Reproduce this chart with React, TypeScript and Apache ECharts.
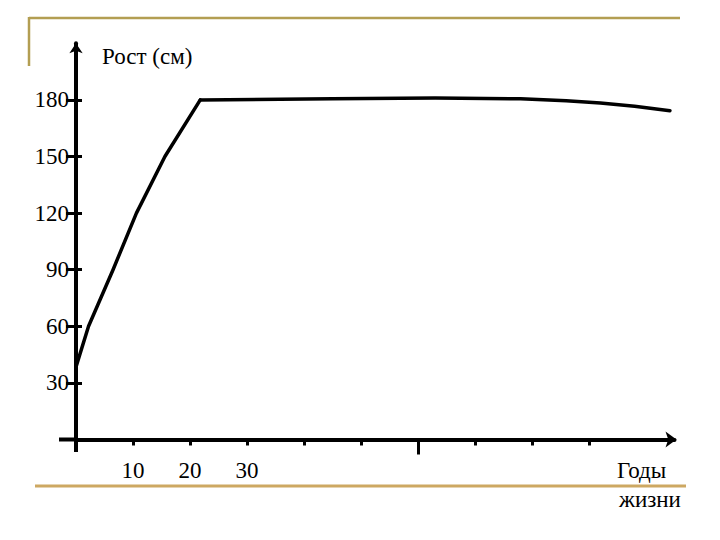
import React, { useEffect, useRef } from "react";
import * as echarts from "echarts";

// Growth curve: age (years) vs height (cm)
const riseAges = [0, 2.2, 6.5, 10.6, 15.6, 21.8];
const riseHeights = [38.5, 60, 90, 120, 150, 180];
const plateauAges = [21.8, 45, 63, 78, 86, 92, 98, 104.2];
const plateauHeights = [180, 180.6, 181, 180.6, 179.6, 178.3, 176.6, 174.3];

const yTickValues = [30, 60, 90, 120, 150, 180];
const xTickValues = [10, 20, 30, 40, 50, 60, 70, 80, 90];
const xLabelValues = [10, 20, 30];
const xLongTick = [60];

const yTitle = "Рост (см)";
const xTitle1 = "Годы";
const xTitle2 = "жизни";

const FONT = "Liberation Serif";

export default function App() {
  const ref = useRef<HTMLDivElement>(null);

  useEffect(() => {
    if (!ref.current) return;
    const chart = echarts.init(ref.current, null, { renderer: "svg" });
    const X_MIN = 0, X_MAX = 105, Y_MIN = 0, Y_MAX = 210;
    const commonX = { type: "value", min: X_MIN, max: X_MAX, splitLine: { show: false } };
    const commonY = { type: "value", min: Y_MIN, max: Y_MAX, splitLine: { show: false } };
    const lineStyle = { color: "#000", width: 3.5, join: "round", cap: "round" };
    const gl = 76, gr = 45.5, gt = 43.3, gb = 100.5;
    const ox = gl, oy = 540 - gb;
    const gridW = 720 - gl - gr;
    chart.setOption({
      animation: false,
      backgroundColor: "#ffffff",
      grid: { left: gl, right: gr, top: gt, bottom: gb, containLabel: false },
      xAxis: [
        {
          ...commonX,
          position: "bottom",
          axisLine: {
            onZero: false,
            symbol: ["none", "arrow"],
            symbolSize: [12, 11],
            symbolOffset: [0, 2],
            lineStyle: { color: "#000", width: 4 },
          },
          axisTick: { show: true, customValues: xTickValues, length: 6, lineStyle: { color: "#000", width: 3 } },
          axisLabel: {
            show: true,
            customValues: xLabelValues,
            margin: 31,
            verticalAlign: "middle",
            color: "#000",
            fontFamily: FONT,
            fontSize: 23,
          },
        },
        {
          ...commonX,
          position: "bottom",
          axisLine: { show: false, onZero: false },
          axisTick: { show: true, customValues: xLongTick, length: 15, lineStyle: { color: "#000", width: 3 } },
          axisLabel: { show: false },
        },
      ],
      yAxis: [
        {
          ...commonY,
          position: "left",
          axisLine: {
            onZero: false,
            symbol: ["none", "arrow"],
            symbolSize: [10, 10],
            lineStyle: { color: "#000", width: 4 },
          },
          axisTick: { show: true, customValues: yTickValues, length: 10, lineStyle: { color: "#000", width: 3 } },
          axisLabel: {
            show: true,
            customValues: yTickValues,
            margin: 7,
            color: "#000",
            fontFamily: FONT,
            fontSize: 23,
          },
        },
        {
          ...commonY,
          position: "right",
          offset: -gridW,
          axisLine: { show: false, onZero: false },
          axisTick: { show: true, customValues: yTickValues, length: 6, lineStyle: { color: "#000", width: 3 } },
          axisLabel: { show: false },
        },
      ],
      series: [
        {
          type: "line",
          xAxisIndex: 0,
          yAxisIndex: 0,
          data: riseAges.map((a, i) => [a, riseHeights[i]]),
          symbol: "none",
          smooth: false,
          lineStyle,
        },
        {
          type: "line",
          xAxisIndex: 0,
          yAxisIndex: 0,
          data: plateauAges.map((a, i) => [a, plateauHeights[i]]),
          symbol: "none",
          smooth: false,
          lineStyle,
        },
      ],
      graphic: [
        // axis stubs crossing the origin
        { type: "line", shape: { x1: 59, y1: oy, x2: ox, y2: oy }, style: { stroke: "#000", lineWidth: 4 } },
        { type: "line", shape: { x1: ox, y1: oy, x2: ox, y2: 452 }, style: { stroke: "#000", lineWidth: 4 } },
        // slide frame
        { type: "line", shape: { x1: 29, y1: 18, x2: 680, y2: 18 }, style: { stroke: "#B39E52", lineWidth: 2.5 } },
        { type: "line", shape: { x1: 29, y1: 17, x2: 29, y2: 66 }, style: { stroke: "#B39E52", lineWidth: 2.5 } },
        { type: "line", shape: { x1: 35, y1: 486, x2: 686, y2: 486 }, style: { stroke: "#CDA862", lineWidth: 3 } },
        {
          type: "text",
          x: 102,
          y: 56,
          style: { text: yTitle, fill: "#000", fontFamily: FONT, fontSize: 23, textAlign: "left", textVerticalAlign: "middle" },
        },
        {
          type: "text",
          x: 617,
          y: 470.5,
          style: { text: xTitle1, fill: "#000", fontFamily: FONT, fontSize: 23, textAlign: "left", textVerticalAlign: "middle" },
        },
        {
          type: "text",
          x: 619,
          y: 499.5,
          style: { text: xTitle2, fill: "#000", fontFamily: FONT, fontSize: 23, textAlign: "left", textVerticalAlign: "middle" },
        },
      ],
    });
    return () => chart.dispose();
  }, []);

  return (
    <div
      ref={ref}
      style={{ position: "fixed", left: 0, top: 0, width: 720, height: 540, background: "#fff" }}
    />
  );
}
